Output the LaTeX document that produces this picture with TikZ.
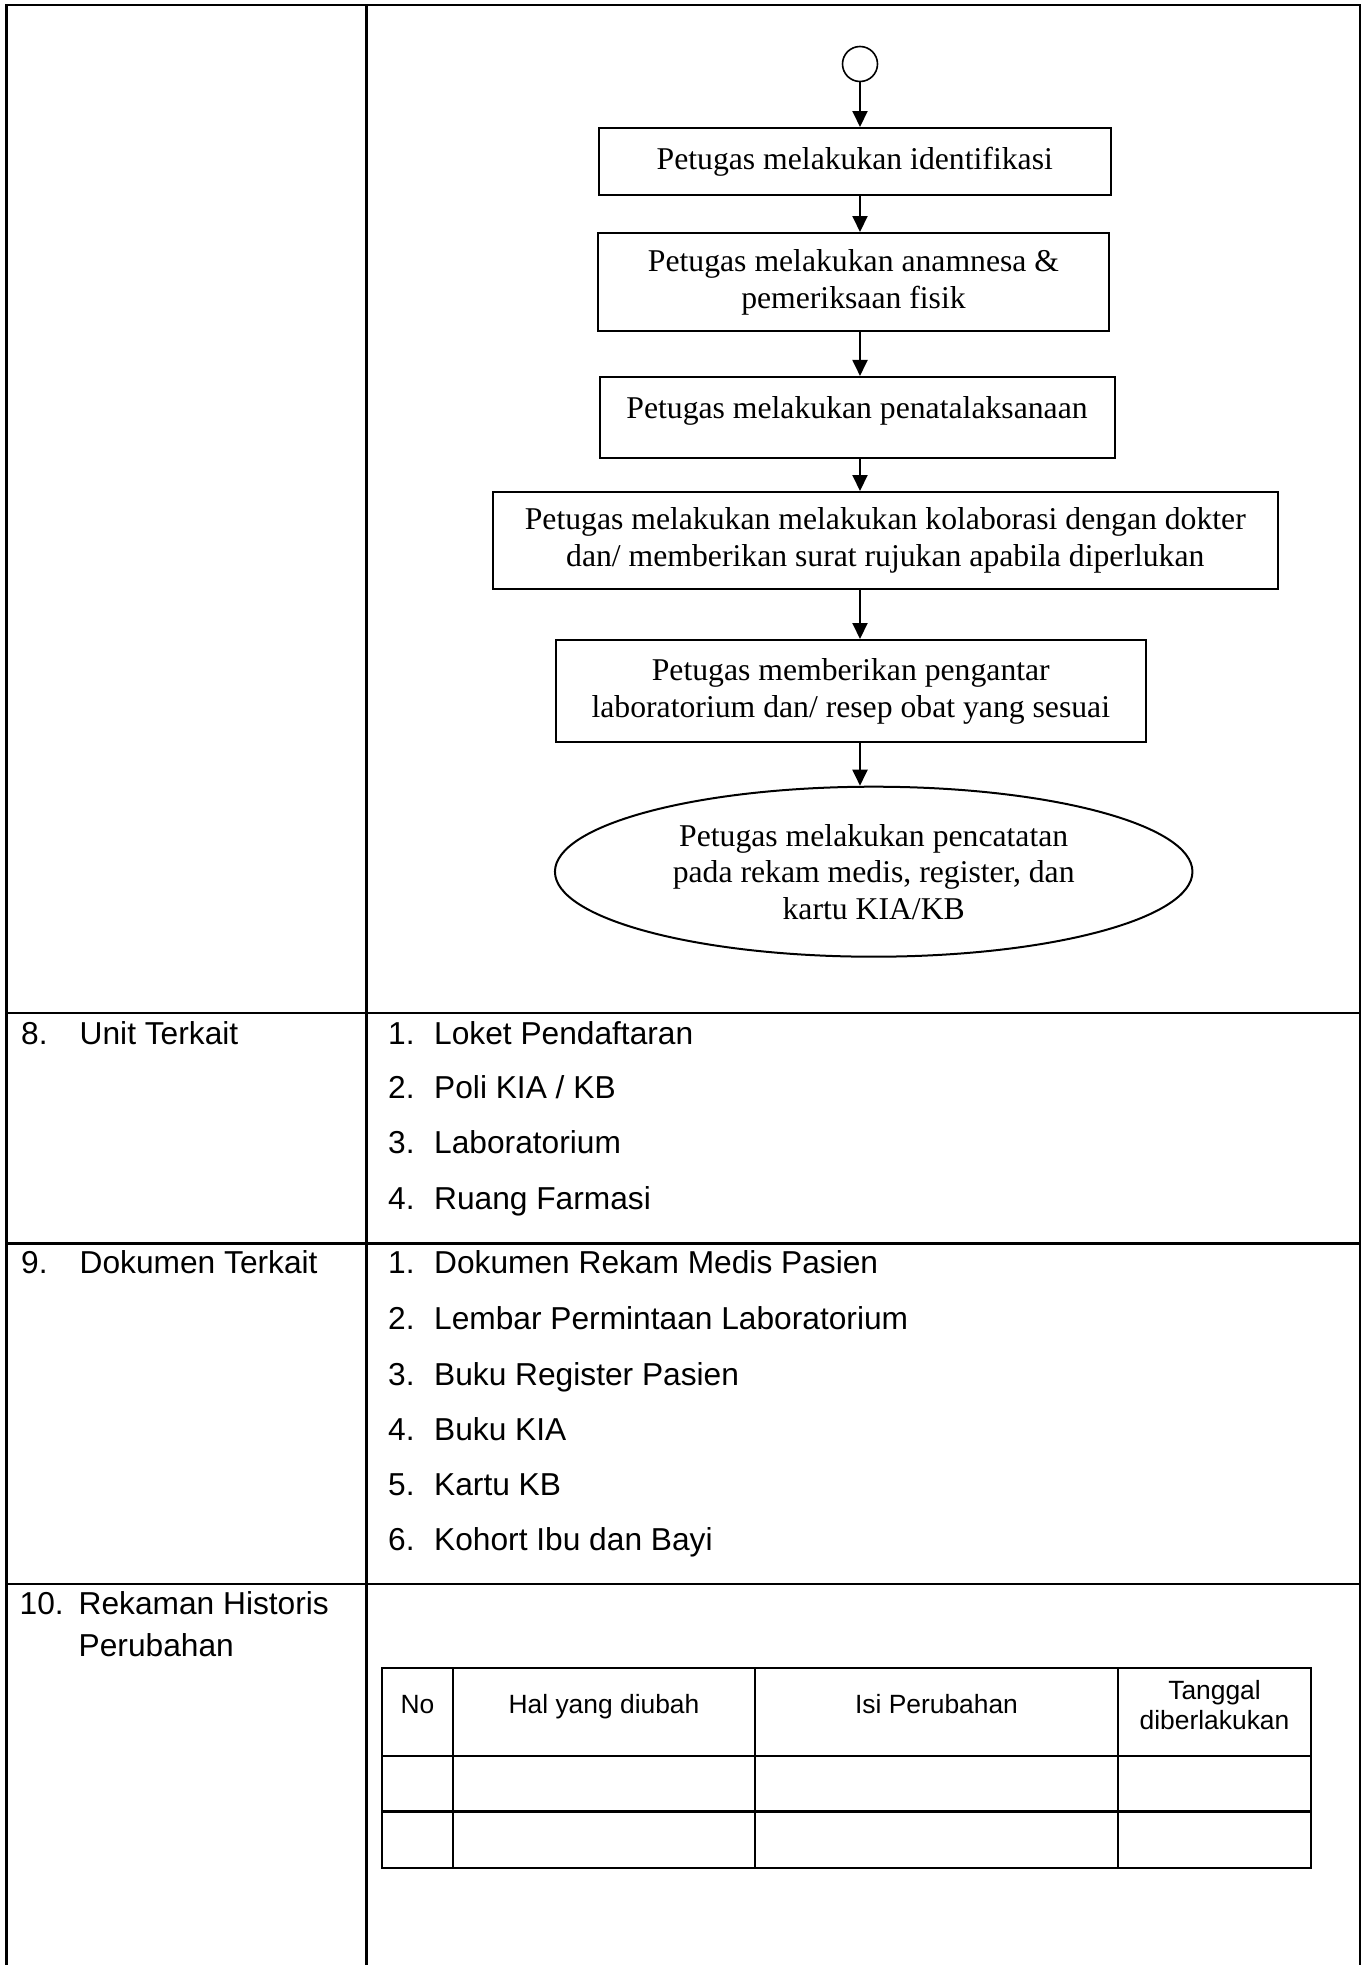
\documentclass[tikz,border=0pt]{standalone}
\usepackage{fontspec}
\setmainfont{Liberation Sans}
\newfontfamily\tnr{Liberation Serif}
\usetikzlibrary{shapes.geometric,arrows.meta}
\begin{document}
\begin{tikzpicture}[x=1pt,y=-1pt,
  frame/.style={line width=2.8pt},
  flowbox/.style={draw,line width=2pt,rectangle,inner sep=0pt,align=center,
    font=\tnr\fontsize{31.7}{37}\selectfont},
  flowell/.style={draw,line width=2pt,ellipse,inner sep=0pt,align=center,
    font=\tnr\fontsize{31.7}{36.5}\selectfont},
  startc/.style={draw,circle,line width=1.6pt,minimum size=35pt,inner sep=0pt},
  flow/.style={line width=2pt,-{Triangle[width=15pt,length=16pt]}},
  lbl/.style={inner sep=0pt,anchor=base west,font=\fontsize{31.7}{36.5}\selectfont},
  hdr/.style={inner sep=0pt,align=center,font=\fontsize{26.4}{30.4}\selectfont},
  innerh/.style={line width=2.6pt},
  innerv/.style={line width=2pt}]
\useasboundingbox (0,0) rectangle (1365,1965);
\fill[white] (0,0) rectangle (1365,1965);
% outer frame
\draw[frame] (6.5,1965) -- (6.5,5) -- (1360,5) -- (1360,1965);
\draw[frame] (366.5,5) -- (366.5,1965);
\draw[frame] (6.5,1013) -- (1360,1013);
\draw[frame] (6.5,1243.5) -- (1360,1243.5);
\draw[frame] (6.5,1584) -- (1360,1584);
% flowchart
\node[startc] (c) at (860,64) {};
\node[flowbox,minimum width=511.5pt,minimum height=67pt] (b1) at (854.75,161.5) {Petugas melakukan identifikasi};
\node[flowbox,minimum width=511pt,minimum height=98pt] (b2) at (853.5,282) {Petugas melakukan anamnesa \&\\pemeriksaan fisik};
\node[flowbox,minimum width=515pt,minimum height=80.7pt,text height=22pt,text depth=20pt] (b3) at (857,417.3) {Petugas melakukan penatalaksanaan};
\node[flowbox,minimum width=785.4pt,minimum height=97pt] (b4) at (885.3,540.5) {Petugas melakukan melakukan kolaborasi dengan dokter\\dan/ memberikan surat rujukan apabila diperlukan};
\node[flowbox,minimum width=590.4pt,minimum height=102pt] (b5) at (850.8,691) {Petugas memberikan pengantar\\laboratorium dan/ resep obat yang sesuai};
\node[flowell,minimum width=637.5pt,minimum height=170pt] (e) at (873.7,871.7) {Petugas melakukan pencatatan\\pada rekam medis, register, dan\\kartu KIA/KB};
\draw[flow] (c.south) -- (c.south |- b1.north);
\draw[flow] (b1.south -| c) -- (b2.north -| c);
\draw[flow] (b2.south -| c) -- (b3.north -| c);
\draw[flow] (b3.south -| c) -- (b4.north -| c);
\draw[flow] (b4.south -| c) -- (b5.north -| c);
\draw[flow] (b5.south -| c) -- (e.north -| c);
% row 8
\node[lbl] (n8) at (21,1044) {8.};
\node[lbl] (t8) at (79.5,1044) {Unit Terkait};
\node[lbl] (u1n) at (388,1044) {1.};
\node[lbl] (u1) at (434,1044) {Loket Pendaftaran};
\node[lbl] (u2n) at (388,1098.5) {2.};
\node[lbl] (u2) at (434,1098.5) {Poli KIA / KB};
\node[lbl] (u3n) at (388,1153.5) {3.};
\node[lbl] (u3) at (434,1153.5) {Laboratorium};
\node[lbl] (u4n) at (388,1209) {4.};
\node[lbl] (u4) at (434,1209) {Ruang Farmasi};
% row 9
\node[lbl] (n9) at (21,1273) {9.};
\node[lbl] (t9) at (79.5,1273) {Dokumen Terkait};
\node[lbl] (d1n) at (388,1273) {1.};
\node[lbl] (d1) at (434,1273) {Dokumen Rekam Medis Pasien};
\node[lbl] (d2n) at (388,1329) {2.};
\node[lbl] (d2) at (434,1329) {Lembar Permintaan Laboratorium};
\node[lbl] (d3n) at (388,1385) {3.};
\node[lbl] (d3) at (434,1385) {Buku Register Pasien};
\node[lbl] (d4n) at (388,1440) {4.};
\node[lbl] (d4) at (434,1440) {Buku KIA};
\node[lbl] (d5n) at (388,1495) {5.};
\node[lbl] (d5) at (434,1495) {Kartu KB};
\node[lbl] (d6n) at (388,1550) {6.};
\node[lbl] (d6) at (434,1550) {Kohort Ibu dan Bayi};
% row 10
\node[lbl] (n10) at (19.5,1614) {10.};
\node[lbl] (t10a) at (78.5,1614) {Rekaman Historis};
\node[lbl] (t10b) at (78.5,1656) {Perubahan};
% inner table
\draw[innerh] (382,1668) rectangle (1311,1868);
\draw[innerh] (382,1756) -- (1311,1756);
\draw[innerh] (382,1811.5) -- (1311,1811.5);
\draw[innerv] (453,1668) -- (453,1868);
\draw[innerv] (755,1668) -- (755,1868);
\draw[innerv] (1118,1668) -- (1118,1868);
\node[hdr,anchor=base] (hno) at (417.5,1713) {No};
\node[hdr,anchor=base] (hhal) at (604,1713) {Hal yang diubah};
\node[hdr,anchor=base] (hisi) at (936.5,1713) {Isi Perubahan};
\node[hdr] (htgl) at (1214.5,1705) {Tanggal\\diberlakukan};
\end{tikzpicture}
\end{document}
